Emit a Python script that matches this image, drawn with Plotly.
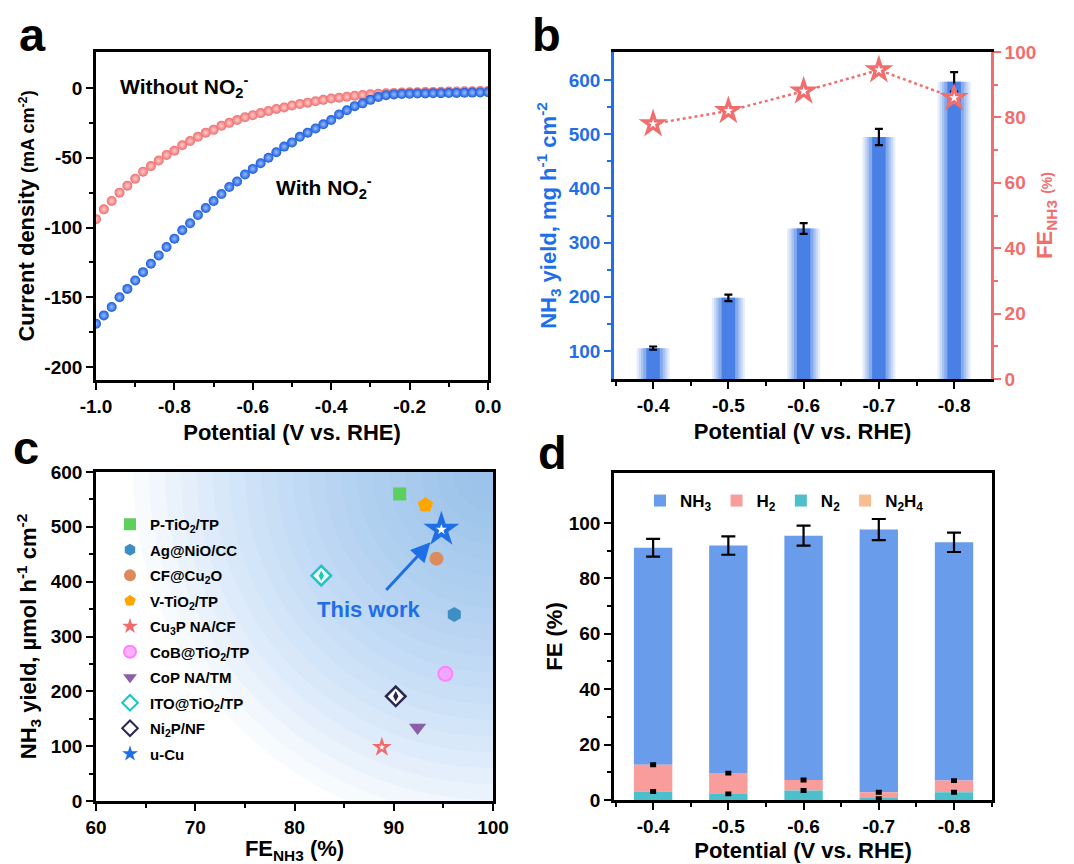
import plotly.graph_objects as go

# ---------------- data ----------------
# panel a: LSV curves
pot_a = [-1.00, -0.98, -0.96, -0.94, -0.92, -0.90, -0.88, -0.86, -0.84, -0.82,
         -0.80, -0.78, -0.76, -0.74, -0.72, -0.70, -0.68, -0.66, -0.64, -0.62,
         -0.60, -0.58, -0.56, -0.54, -0.52, -0.50, -0.48, -0.46, -0.44, -0.42,
         -0.40, -0.38, -0.36, -0.34, -0.32, -0.30, -0.28, -0.26, -0.24, -0.22,
         -0.20, -0.18, -0.16, -0.14, -0.12, -0.10, -0.08, -0.06, -0.04, -0.02, 0.00]
j_with = [-169, -163, -157, -150, -144, -138, -132, -126, -120, -114,
          -108, -102, -97, -91, -86, -81, -76, -71, -67, -62,
          -58, -54, -50, -46, -42, -39, -35, -32, -29, -26,
          -23, -19, -16, -13, -11, -8.5, -6.5, -5.2, -4.6, -4.3,
          -4.1, -4.0, -3.9, -3.8, -3.7, -3.6, -3.5, -3.4, -3.3, -3.2, -3.1]
j_without = [-94, -87, -81, -75, -70, -65, -60, -56, -52, -48,
             -45, -41, -38, -35, -32, -30, -27, -25, -23, -21,
             -19.5, -18, -16.5, -15, -14, -12.5, -11.5, -10.5, -9.5, -8.5,
             -7.5, -7.0, -6.3, -5.5, -5.0, -4.5, -4.1, -3.8, -3.5, -3.3,
             -3.1, -3.0, -2.9, -2.8, -2.7, -2.6, -2.5, -2.4, -2.3, -2.2, -2.1]
a_xticks = [-1.0, -0.8, -0.6, -0.4, -0.2, 0.0]
a_xlabels = ["-1.0", "-0.8", "-0.6", "-0.4", "-0.2", "0.0"]
a_yticks = [0, -50, -100, -150, -200]
a_ylabels = ["0", "-50", "-100", "-150", "-200"]

# panel b / d: potentials
potentials = [-0.4, -0.5, -0.6, -0.7, -0.8]
pot_labels = ["-0.4", "-0.5", "-0.6", "-0.7", "-0.8"]
pot_minor = [-0.35, -0.45, -0.55, -0.65, -0.75, -0.85]
nh3_yield = [105, 198, 326, 495, 597]
nh3_yield_err = [3, 6, 10, 15, 18]
fe_nh3_b = [78, 82, 88, 94.5, 86]

# panel c: comparison
catalysts = ["P-TiO<sub>2</sub>/TP", "Ag@NiO/CC", "CF@Cu<sub>2</sub>O", "V-TiO<sub>2</sub>/TP",
             "Cu<sub>3</sub>P NA/CF", "CoB@TiO<sub>2</sub>/TP", "CoP NA/TM",
             "ITO@TiO<sub>2</sub>/TP", "Ni<sub>2</sub>P/NF", "u-Cu"]
cat_fe = [90.6, 96.1, 94.3, 93.2, 88.8, 95.2, 92.4, 82.7, 90.2, 94.8]
cat_yield = [560, 340, 442, 540, 98, 232, 134, 411, 191, 495]
cat_symbols = ["square", "hexagon", "circle", "pentagon", "star", "circle",
               "triangle-down", "diamond", "diamond", "star"]
cat_colors = ["#5ccf5c", "#3d8ec2", "#dd8a5e", "#ffa500", "#f26b6b", "#ff80ff",
              "#8c5ea8", "#19c6c6", "#2b2552", "#1e6ee6"]
cat_sizes = [13, 15, 14, 16, 15, 14, 15, 15, 15, 27]

# panel d: FE distribution
fe_nh3 = [78.3, 82.1, 88.2, 94.8, 86.0]
fe_h2 = [9.6, 7.5, 3.8, 2.3, 4.2]
fe_n2 = [3.1, 2.2, 3.4, 0.5, 2.8]
fe_n2h4 = [0, 0, 0, 0, 0]
fe_total_err = [3.2, 3.3, 3.6, 3.8, 3.5]
fe_small_err = [0.35, 0.35, 0.35, 0.35, 0.35]

# ---------------- styling ----------------
FONT = "Arial, 'Liberation Sans', Helvetica, sans-serif"
BLACK = "#000000"
BLUE_AX = "#1f6fe8"
SALMON = "#f06e6e"
OFF = 8                      # page body margin of the browser
FW, FH = 1074 - OFF, 864 - OFF


def px2x(p):
    return (p - OFF) / FW


def px2y(p):
    return 1 - (p - OFF) / FH


def bfont(size, color=BLACK):
    return dict(family=FONT, size=size, color=color, weight="bold")


fig = go.Figure()

# ---------- panel a ----------
fig.add_trace(go.Scatter(
    x=pot_a, y=j_without, mode="markers", xaxis="x", yaxis="y", showlegend=False,
    marker=dict(size=10, color="rgb(240,110,110)", gradient=dict(type="radial", color="rgb(255,205,205)"),
                line=dict(width=0))))
fig.add_trace(go.Scatter(
    x=pot_a, y=j_with, mode="markers", xaxis="x", yaxis="y", showlegend=False,
    marker=dict(size=10, color="rgb(25,90,220)", gradient=dict(type="radial", color="rgb(150,190,255)"),
                line=dict(width=0))))

# ---------- panel b ----------
bar_layers = [(0.044, 0.14), (0.038, 0.18), (0.032, 0.25), (0.026, 0.35), (0.018, 1.0)]
for wdt, alpha in bar_layers:
    err = None
    if alpha == 1.0:
        err = dict(type="data", array=nh3_yield_err, color=BLACK, thickness=2.2, width=4)
    fig.add_trace(go.Bar(
        x=potentials, y=nh3_yield, width=wdt, xaxis="x2", yaxis="y2", showlegend=False,
        marker=dict(color=f"rgba(72,128,230,{alpha})", line=dict(width=0)), error_y=err))
fig.add_trace(go.Scatter(
    x=potentials, y=fe_nh3_b, mode="lines+markers", xaxis="x2", yaxis="y3", showlegend=False,
    line=dict(color=SALMON, width=2.5, dash="dot"),
    marker=dict(symbol="star", size=22, color=SALMON)))
fig.add_trace(go.Scatter(
    x=potentials, y=fe_nh3_b, mode="markers", xaxis="x2", yaxis="y3", showlegend=False,
    marker=dict(symbol="star", size=7, color="white")))

# ---------- panel c ----------
for i, name in enumerate(catalysts):
    sym = cat_symbols[i]
    col = cat_colors[i]
    mk = dict(symbol=sym, size=cat_sizes[i], color=col, line=dict(width=0))
    if name.startswith("CoB"):
        mk = dict(symbol="circle", size=cat_sizes[i], color="rgba(255,150,255,0.75)",
                  line=dict(width=2, color=col))
    if name.startswith("ITO") or name.startswith("Ni"):
        mk = dict(symbol="diamond", size=cat_sizes[i], color="rgba(255,255,255,0.9)",
                  line=dict(width=2.5, color=col))
    fig.add_trace(go.Scatter(
        x=[cat_fe[i]], y=[cat_yield[i]], mode="markers", name=name, legend="legend",
        legendgroup=f"g{i}", xaxis="x3", yaxis="y4", marker=mk, cliponaxis=False))
    if sym == "star":
        fig.add_trace(go.Scatter(
            x=[cat_fe[i]], y=[cat_yield[i]], mode="markers", showlegend=False,
            legendgroup=f"g{i}", xaxis="x3", yaxis="y4",
            marker=dict(symbol="star", size=cat_sizes[i] * 0.3, color="white")))
    if name.startswith("ITO") or name.startswith("Ni"):
        fig.add_trace(go.Scatter(
            x=[cat_fe[i]], y=[cat_yield[i]], mode="markers", showlegend=False,
            legendgroup=f"g{i}", xaxis="x3", yaxis="y4",
            marker=dict(symbol="diamond-tall", size=cat_sizes[i] * 0.5, color=col)))

# ---------- panel d ----------
base_h2 = [fe_n2[i] for i in range(5)]
base_nh3 = [fe_n2[i] + fe_h2[i] for i in range(5)]
base_n2h4 = [fe_n2[i] + fe_h2[i] + fe_nh3[i] for i in range(5)]
fig.add_trace(go.Bar(
    x=potentials, y=fe_nh3, base=base_nh3, width=0.051, name="NH<sub>3</sub>", legend="legend2",
    xaxis="x4", yaxis="y5", marker=dict(color="#6a9cec", line=dict(width=0)),
    error_y=dict(type="data", array=fe_total_err, color=BLACK, thickness=2.2, width=7)))
fig.add_trace(go.Bar(
    x=potentials, y=fe_h2, base=base_h2, width=0.051, name="H<sub>2</sub>", legend="legend2",
    xaxis="x4", yaxis="y5", marker=dict(color="#f89c9c", line=dict(width=0)),
    error_y=dict(type="data", array=fe_small_err, color=BLACK, thickness=3, width=3)))
fig.add_trace(go.Bar(
    x=potentials, y=fe_n2, width=0.051, name="N<sub>2</sub>", legend="legend2",
    xaxis="x4", yaxis="y5", marker=dict(color="#4dbfca", line=dict(width=0)),
    error_y=dict(type="data", array=fe_small_err, color=BLACK, thickness=3, width=3)))
fig.add_trace(go.Bar(
    x=potentials, y=fe_n2h4, base=base_n2h4, width=0.051, name="N<sub>2</sub>H<sub>4</sub>",
    legend="legend2", xaxis="x4", yaxis="y5", marker=dict(color="#f8be92", line=dict(width=0))))

# ---------- axes ----------
ax_common = dict(showgrid=False, zeroline=False, showline=True, linewidth=2.6, linecolor=BLACK,
                 ticks="outside", ticklen=7, tickwidth=2, tickcolor=BLACK, tickfont=bfont(19),
                 automargin=False)

layout = dict(
    width=FW, height=FH, margin=dict(l=0, r=0, t=0, b=0, autoexpand=False),
    paper_bgcolor="white", plot_bgcolor="rgba(0,0,0,0)",
    barmode="overlay", font=bfont(18),
    # a
    xaxis=dict(ax_common, domain=[px2x(96), px2x(488)], anchor="y", range=[-1.0, 0.0], mirror=True,
               tickmode="array", tickvals=a_xticks, ticktext=a_xlabels,
               minor=dict(tickmode="array", tickvals=[-0.9, -0.7, -0.5, -0.3, -0.1], ticklen=4,
                          tickwidth=2, tickcolor=BLACK),
               title=dict(text="Potential (V vs. RHE)", font=bfont(22), standoff=10)),
    yaxis=dict(ax_common, domain=[px2y(380), px2y(52)], anchor="x", range=[-209.3, 25.8], mirror=True,
               tickmode="array", tickvals=a_yticks, ticktext=a_ylabels,
               minor=dict(tickmode="array", tickvals=[-25, -75, -125, -175], ticklen=4,
                          tickwidth=2, tickcolor=BLACK),
               title=dict(text="Current density <span style='font-size:18px'>(mA cm<sup>-2</sup>)</span>",
                          font=bfont(22), standoff=4)),
    # b
    xaxis2=dict(ax_common, domain=[px2x(614), px2x(991)], anchor="y2", range=[-0.348, -0.849],
                mirror=True, tickmode="array", tickvals=potentials, ticktext=pot_labels,
                minor=dict(tickmode="array", tickvals=pot_minor, ticklen=4, tickwidth=2, tickcolor=BLACK),
                title=dict(text="Potential (V vs. RHE)", font=bfont(22), standoff=10)),
    yaxis2=dict(ax_common, domain=[px2y(379), px2y(52)], anchor="x2", range=[48, 652],
                linecolor=BLUE_AX, tickcolor=BLUE_AX, tickfont=bfont(19, BLUE_AX),
                tickmode="array", tickvals=[100, 200, 300, 400, 500, 600],
                minor=dict(tickmode="array", tickvals=[150, 250, 350, 450, 550], ticklen=4,
                           tickwidth=2, tickcolor=BLUE_AX),
                title=dict(text="NH<sub>3</sub> yield, mg h<sup>-1</sup> cm<sup>-2</sup>",
                           font=bfont(22, BLUE_AX), standoff=6)),
    yaxis3=dict(ax_common, overlaying="y2", side="right", anchor="x2", range=[0, 100],
                linecolor=SALMON, tickcolor=SALMON, tickfont=bfont(19, SALMON),
                tickmode="array", tickvals=[0, 20, 40, 60, 80, 100],
                minor=dict(tickmode="array", tickvals=[10, 30, 50, 70, 90], ticklen=4,
                           tickwidth=2, tickcolor=SALMON),
                title=dict(text="FE<sub>NH3</sub> <span style='font-size:14px'>(%)</span>",
                           font=bfont(22, SALMON), standoff=2)),
    # c
    xaxis3=dict(ax_common, domain=[px2x(96), px2x(493)], anchor="y4", range=[60, 100], mirror=True,
                tickmode="array", tickvals=[60, 70, 80, 90, 100],
                minor=dict(tickmode="array", tickvals=[65, 75, 85, 95], ticklen=4, tickwidth=2,
                           tickcolor=BLACK),
                title=dict(text="FE<sub>NH3</sub> (%)", font=bfont(22), standoff=8)),
    yaxis4=dict(ax_common, domain=[px2y(801), px2y(472)], anchor="x3", range=[0, 600], mirror=True,
                tickmode="array", tickvals=[0, 100, 200, 300, 400, 500, 600],
                minor=dict(tickmode="array", tickvals=[50, 150, 250, 350, 450, 550], ticklen=4,
                           tickwidth=2, tickcolor=BLACK),
                title=dict(text="NH<sub>3</sub> yield, µmol h<sup>-1</sup> cm<sup>-2</sup>",
                           font=bfont(22), standoff=8)),
    # d
    xaxis4=dict(ax_common, domain=[px2x(614), px2x(992)], anchor="y5", range=[-0.348, -0.8505],
                mirror=True, tickmode="array", tickvals=potentials, ticktext=pot_labels,
                minor=dict(tickmode="array", tickvals=pot_minor, ticklen=4, tickwidth=2, tickcolor=BLACK),
                title=dict(text="Potential (V vs. RHE)", font=bfont(22), standoff=8)),
    yaxis5=dict(ax_common, domain=[px2y(800), px2y(473)], anchor="x4", range=[0, 118], mirror=True,
                tickmode="array", tickvals=[0, 20, 40, 60, 80, 100],
                minor=dict(tickmode="array", tickvals=[10, 30, 50, 70, 90], ticklen=4, tickwidth=2,
                           tickcolor=BLACK),
                title=dict(text="FE (%)", font=bfont(22), standoff=0)),
    legend=dict(x=px2x(110), y=px2y(508), xanchor="left", yanchor="top", bgcolor="rgba(0,0,0,0)",
                font=bfont(15), tracegroupgap=3, itemsizing="constant"),
    legend2=dict(x=px2x(640), y=px2y(483), xanchor="left", yanchor="top", orientation="h",
                 bgcolor="rgba(0,0,0,0)", font=bfont(17)),
)
fig.update_layout(**layout)

# background gradient for panel c (decorative)
cx, cy = 100, 600
xpx_per_unit = (493 - 96) / 40
ypx_per_unit = (801 - 472) / 600
for k in range(22):
    R = 360 - k * 16
    fig.add_shape(type="circle", xref="x3", yref="y4", layer="below",
                  x0=cx - R / xpx_per_unit, x1=cx + R / xpx_per_unit,
                  y0=cy - R / ypx_per_unit, y1=cy + R / ypx_per_unit,
                  fillcolor="rgba(120,170,236,0.05)", line=dict(width=0))

# annotations
ann = []
for letter, (lx, ly) in {"a": (32, 35), "b": (546, 35), "c": (26, 448), "d": (552, 452)}.items():
    ann.append(dict(text=letter, x=px2x(lx), y=px2y(ly), xref="paper", yref="paper",
                    showarrow=False, font=bfont(47), xanchor="center", yanchor="middle"))
ann.append(dict(text="Without NO<sub>2</sub><sup>-</sup>", x=-0.945, y=1, xref="x", yref="y",
                xanchor="left", yanchor="middle", showarrow=False, font=bfont(21)))
ann.append(dict(text="With NO<sub>2</sub><sup>-</sup>", x=-0.545, y=-71, xref="x", yref="y",
                xanchor="left", yanchor="middle", showarrow=False, font=bfont(21)))
ann.append(dict(text="This work", x=87.5, y=350, xref="x3", yref="y4", showarrow=False,
                font=bfont(22, "#1e6ee6")))
ann.append(dict(text="", x=93.7, y=472, ax=89.1, ay=382, xref="x3", yref="y4", axref="x3", ayref="y4",
                showarrow=True, arrowhead=2, arrowsize=1.3, arrowwidth=3, arrowcolor="#1e6ee6"))
fig.update_layout(annotations=ann)

fig.write_html("out.html")
